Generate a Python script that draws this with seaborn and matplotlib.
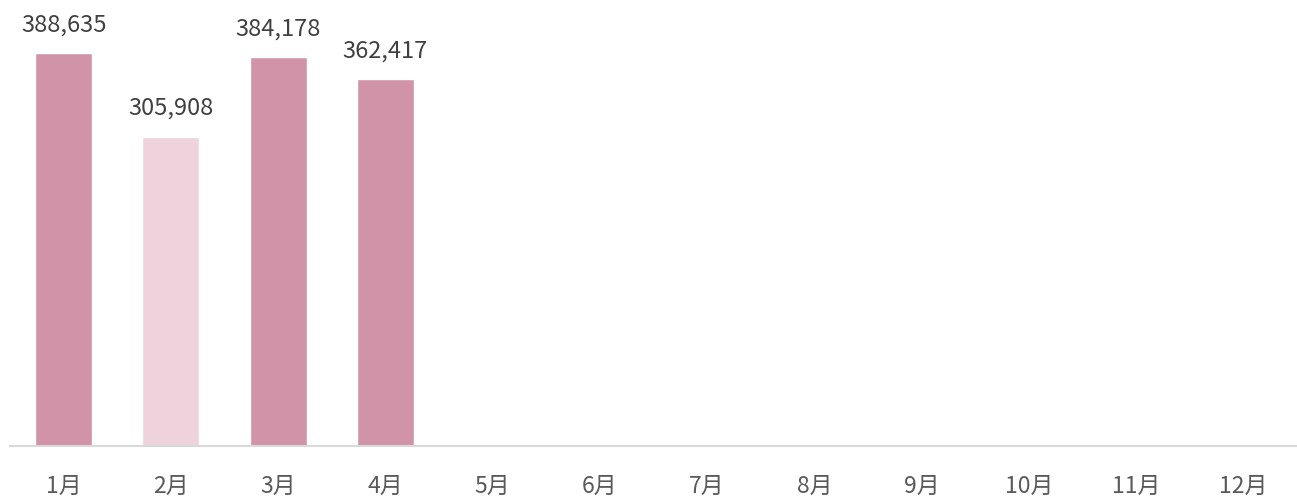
import matplotlib
matplotlib.use("Agg")
import matplotlib.pyplot as plt
import seaborn as sns
import pandas as pd

months = ["1月", "2月", "3月", "4月", "5月", "6月", "7月", "8月", "9月", "10月", "11月", "12月"]
data_months = ["1月", "2月", "3月", "4月"]
values = [388635, 305908, 384178, 362417]
bar_colors = ["#D093A8", "#EED3DC", "#D093A8", "#D093A8"]

sns.set_theme(style="white")
plt.rcParams['font.family'] = ['Noto Sans CJK TC', 'DejaVu Sans']

df = pd.DataFrame({"month": data_months, "value": values})

fig = plt.figure(figsize=(12.97, 4.99), dpi=100)
ax = fig.add_axes([10/1297, 53/499, 1287/1297, 446/499])

sns.barplot(data=df, x="month", y="value", hue="month", order=months,
            palette=dict(zip(data_months, bar_colors)), width=0.53,
            legend=False, ax=ax, saturation=1)

ax.set_xlim(-0.5, 11.5)
ax.set_ylim(0, 441000)
for s in ["top", "right", "left"]:
    ax.spines[s].set_visible(False)
ax.spines["bottom"].set_color("#D9D9D9")
ax.spines["bottom"].set_linewidth(1.5)
ax.set_yticks([])
ax.set_xlabel("")
ax.set_ylabel("")
ax.tick_params(axis="x", length=0, pad=21, labelsize=16.5, labelcolor="#595959")

for i, v in enumerate(values):
    ax.annotate(f"{v:,}", (i, v), xytext=(0, 12), textcoords="offset points",
                ha="center", va="bottom", fontsize=17, color="#404040")

fig.savefig("out.png", dpi=100)
